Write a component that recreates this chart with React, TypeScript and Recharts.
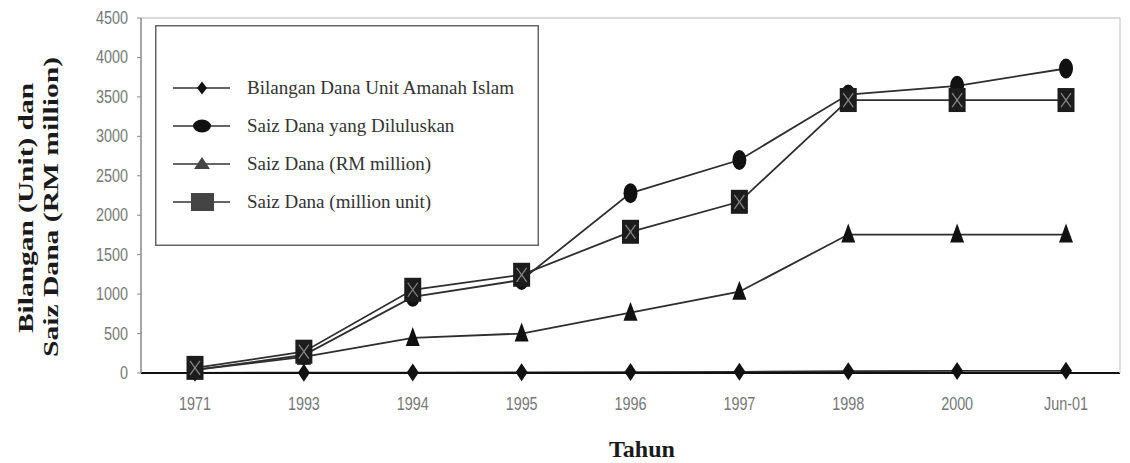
import React from 'react';
import { LineChart, Line, XAxis, YAxis, ReferenceLine } from 'recharts';

// values
const years = ['1971', '1993', '1994', '1995', '1996', '1997', '1998', '2000', 'Jun-01'];
const bilangan = [2, 4, 6, 8, 12, 15, 22, 26, 28];
const diluluskan = [40, 228, 965, 1180, 2280, 2700, 3530, 3640, 3860];
const rmMillion = [40, 205, 445, 500, 765, 1030, 1755, 1755, 1755];
const millionUnit = [65, 270, 1055, 1245, 1790, 2170, 3460, 3460, 3460];
const yTicks = [0, 500, 1000, 1500, 2000, 2500, 3000, 3500, 4000, 4500];
// small marks between the categories on the x axis
const bandEdges = [1, 2, 3, 4, 5, 6, 7, 8];

const data = years.map((y, i) => ({
  year: y,
  pos: i + 0.5,
  bilangan: bilangan[i],
  diluluskan: diluluskan[i],
  rmMillion: rmMillion[i],
  millionUnit: millionUnit[i],
}));

const series = [
  { key: 'bilangan', name: 'Bilangan Dana Unit Amanah Islam', shape: 'diamond' },
  { key: 'diluluskan', name: 'Saiz Dana yang Diluluskan', shape: 'circle' },
  { key: 'rmMillion', name: 'Saiz Dana (RM million)', shape: 'triangle' },
  { key: 'millionUnit', name: 'Saiz Dana (million unit)', shape: 'square' },
];

const LINE = '#2e2e2e';
const tickFont = "'Liberation Sans', Arial, sans-serif";
const serif = "'Liberation Serif', 'DejaVu Serif', serif";

const Marker = ({ cx, cy, shape }: any) => {
  if (cx == null || cy == null) return null;
  if (shape === 'diamond')
    return <polygon points={`${cx},${cy - 9} ${cx + 6},${cy} ${cx},${cy + 9} ${cx - 6},${cy}`} fill="#111" />;
  if (shape === 'circle') return <ellipse cx={cx} cy={cy} rx={7} ry={10} fill="#111" />;
  if (shape === 'triangle')
    return <polygon points={`${cx},${cy - 11} ${cx + 7},${cy + 8} ${cx - 7},${cy + 8}`} fill="#111" />;
  return (
    <g>
      <rect x={cx - 8.5} y={cy - 12} width={17} height={24} fill="#1c1c1c" />
      <line x1={cx - 5} y1={cy - 7} x2={cx + 5} y2={cy + 7} stroke="#8a8a8a" strokeWidth={1.2} />
      <line x1={cx + 5} y1={cy - 7} x2={cx - 5} y2={cy + 7} stroke="#8a8a8a" strokeWidth={1.2} />
    </g>
  );
};

const LegendMarker = ({ shape, x, y }: any) => {
  if (shape === 'diamond')
    return <polygon points={`${x},${y - 6.5} ${x + 5},${y} ${x},${y + 6.5} ${x - 5},${y}`} fill="#111" />;
  if (shape === 'circle') return <ellipse cx={x} cy={y} rx={9} ry={6.5} fill="#111" />;
  if (shape === 'triangle')
    return <polygon points={`${x},${y - 7} ${x + 8},${y + 5} ${x - 8},${y + 5}`} fill="#444" />;
  return <rect x={x - 11} y={y - 9} width={23} height={18} fill="#444" />;
};

// narrow grey tick labels (horizontally squeezed)
const XTick = ({ x, y, payload }: any) => (
  <text
    transform={`translate(${x},${y + 29}) scale(0.8,1)`}
    textAnchor="middle"
    fontFamily={tickFont}
    fontSize={18}
    fill="#777"
  >
    {payload.value}
  </text>
);

const YTick = ({ x, y, payload }: any) => (
  <text
    transform={`translate(${x},${y + 6}) scale(0.8,1)`}
    textAnchor="end"
    fontFamily={tickFont}
    fontSize={18}
    fill="#777"
  >
    {payload.value}
  </text>
);

const YLabel = () => (
  <g fontFamily={serif} fontWeight="bold" fontSize={20} fill="#1a1a1a">
    <text
      transform="translate(33,208) rotate(-90)"
      textAnchor="middle"
      textLength={250}
      lengthAdjust="spacingAndGlyphs"
    >
      Bilangan (Unit) dan
    </text>
    <text
      transform="translate(58,207) rotate(-90)"
      textAnchor="middle"
      textLength={300}
      lengthAdjust="spacingAndGlyphs"
    >
      Saiz Dana (RM million)
    </text>
  </g>
);

const XLabel = () => (
  <text x={642} y={457} textAnchor="middle" fontFamily={serif} fontWeight="bold" fontSize={24} fill="#1a1a1a">
    Tahun
  </text>
);

const App = () => {
  return (
    <div style={{ position: 'absolute', left: 0, top: 0, width: 1130, height: 463, background: '#fff' }}>
      <LineChart width={1130} height={463} data={data} margin={{ top: 18, right: 0, left: 0, bottom: 0 }}>
        <XAxis
          xAxisId="edges"
          type="number"
          dataKey="pos"
          domain={[0, 9]}
          ticks={bandEdges}
          height={0}
          tick={false}
          tickSize={5}
          tickLine={{ stroke: '#b5b5b5' }}
          axisLine={false}
        />
        <XAxis
          dataKey="year"
          height={90}
          padding={{ left: 54, right: 54 }}
          tickLine={false}
          axisLine={{ stroke: '#111', strokeWidth: 2 }}
          tick={<XTick />}
          interval={0}
          label={<XLabel />}
        />
        <YAxis
          width={141}
          domain={[0, 4500]}
          ticks={yTicks}
          interval={0}
          tickSize={4}
          tickMargin={9}
          axisLine={{ stroke: '#888', strokeWidth: 1.5 }}
          tickLine={{ stroke: '#888' }}
          tick={<YTick />}
          label={<YLabel />}
        />
        <YAxis yAxisId="right" orientation="right" width={10} tick={false} tickLine={false} axisLine={{ stroke: '#d4d4d4', strokeWidth: 1.5 }} />
        <ReferenceLine y={4500} stroke="#cfcfcf" strokeWidth={1.5} />
        {series.map((s) => (
          <Line
            key={s.key}
            dataKey={s.key}
            name={s.name}
            type="linear"
            stroke={LINE}
            strokeWidth={1.8}
            dot={(p: any) => <Marker key={`${s.key}-${p.index}`} cx={p.cx} cy={p.cy} shape={s.shape} />}
            activeDot={false}
            isAnimationActive={false}
          />
        ))}
      </LineChart>
      {/* legend box */}
      <svg style={{ position: 'absolute', left: 155, top: 25 }} width={384} height={221}>
        <rect x={0.75} y={0.75} width={382.5} height={219.5} fill="#fff" stroke="#666" strokeWidth={1.5} />
        {series.map((s, i) => {
          const y = 63 + i * 38;
          return (
            <g key={s.key}>
              <line x1={18} x2={75} y1={y} y2={y} stroke="#333" strokeWidth={1.5} />
              <LegendMarker shape={s.shape} x={47} y={y} />
              <text x={92} y={y + 6} fontFamily={serif} fontSize={19} fill="#333">
                {s.name}
              </text>
            </g>
          );
        })}
      </svg>
    </div>
  );
};

export default App;
